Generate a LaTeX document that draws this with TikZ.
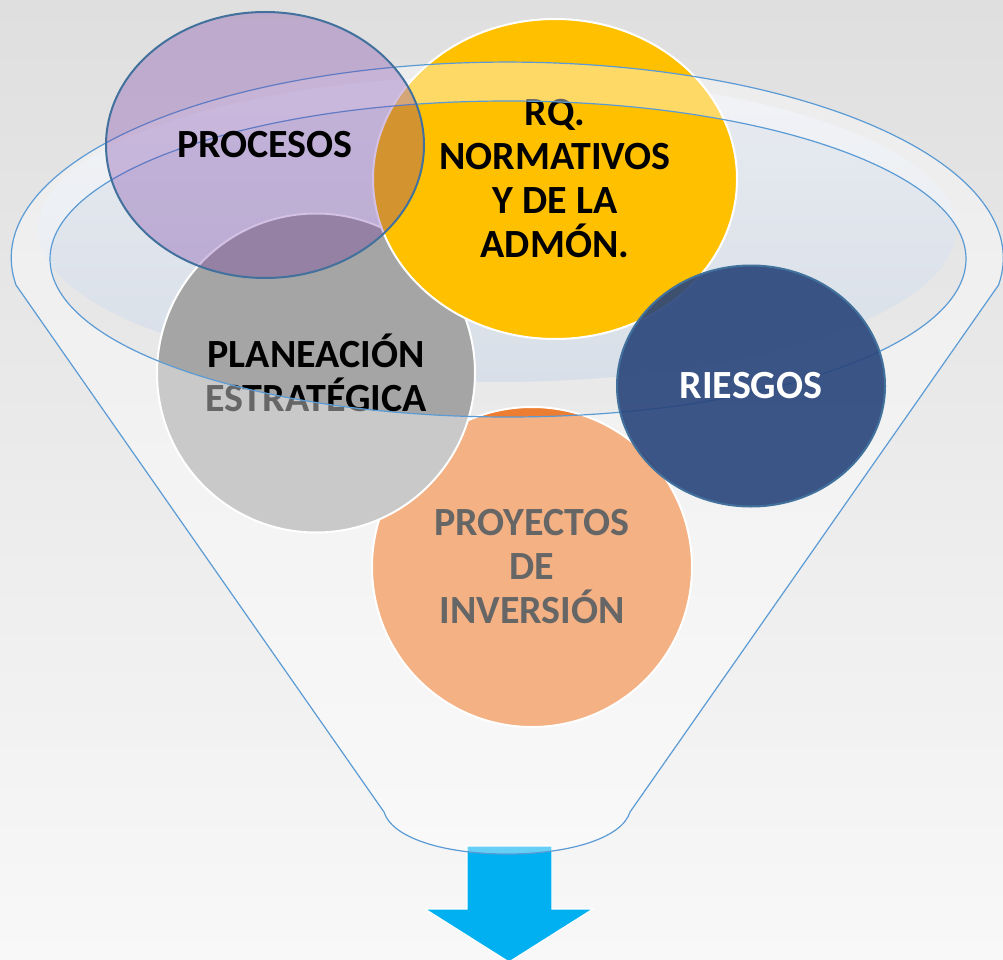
\documentclass[tikz,border=0pt]{standalone}
\usepackage{fontspec}
\setmainfont{Carlito}
\usetikzlibrary{shapes.geometric}
\definecolor{bgtop}{HTML}{DFDFDF}
\definecolor{bgbot}{HTML}{F8F8F8}
\definecolor{deeptop}{HTML}{E8EBF1}
\definecolor{deepbot}{HTML}{D8DFE8}
\definecolor{rim}{HTML}{5B9BD5}
\definecolor{yel}{HTML}{FFC000}
\definecolor{grayc}{HTML}{A5A5A5}
\definecolor{peach}{HTML}{ED7D31}
\definecolor{purp}{HTML}{7030A0}
\definecolor{procline}{HTML}{41719C}
\definecolor{risk}{RGB}{40,68,123}
\definecolor{arrowblue}{HTML}{00B0F0}
\begin{document}
\begin{tikzpicture}[x=1pt,y=-1pt,
  bub/.style={ellipse, inner sep=0pt, align=center, line width=2pt,
    font=\bfseries\fontsize{40}{44}\selectfont},
  rimline/.style={draw=rim, line width=1.2pt}]
\useasboundingbox (0,0) rectangle (1003,960);
% background
\shade[top color=bgtop, bottom color=bgbot] (0,0) rectangle (1003,960);
% inner depth of funnel
\shade[top color=deeptop, bottom color=deepbot] (497,229) ellipse [x radius=459pt, y radius=153pt];
% arrow
\fill[arrowblue, draw=white, line width=1.2pt] (467,846) -- (552,846) -- (552,909) -- (593,909) -- (509,962) -- (425,909) -- (467,909) -- cycle;
% circles under the funnel front
\node[bub, fill=peach, draw=white, minimum width=320pt, minimum height=320pt] (proy) at (532,567) {PROYECTOS\\DE\\INVERSIÓN};
\node[bub, fill=grayc, draw=white, minimum width=318pt, minimum height=319pt] (plan) at (316,373) {PLANEACIÓN\\ESTRATÉGICA};
\node[bub, fill=yel, draw=white, minimum width=364pt, minimum height=320pt] (rq) at (555,179) {RQ.\\NORMATIVOS\\Y DE LA\\ADMÓN.};
% funnel front (translucent) with opening
\fill[white, fill opacity=0.4, even odd rule]
  (16,285) arc[start angle=187.9, end angle=-7.9, x radius=496pt, y radius=196pt]
  -- (630,812) .. controls (622,838) and (570,854) .. (507,854)
  .. controls (444,854) and (392,838) .. (384,812) -- cycle
  (508,259) ellipse [x radius=458pt, y radius=158pt];
\draw[rimline, line join=round]
  (16,285) arc[start angle=187.9, end angle=-7.9, x radius=496pt, y radius=196pt]
  -- (630,812) .. controls (622,838) and (570,854) .. (507,854)
  .. controls (444,854) and (392,838) .. (384,812) -- cycle;
\draw[rimline] (508,259) ellipse [x radius=458pt, y radius=158pt];
% circles above the funnel
\node[bub, fill=purp, fill opacity=0.3, text opacity=1, draw=procline, minimum width=318pt, minimum height=266pt] (proc) at (265,145) {PROCESOS};
\node[bub, fill=risk, fill opacity=0.9, text opacity=1, text=white, draw=procline, minimum width=268pt, minimum height=241pt] (ries) at (751,386) {RIESGOS};
\end{tikzpicture}
\end{document}
